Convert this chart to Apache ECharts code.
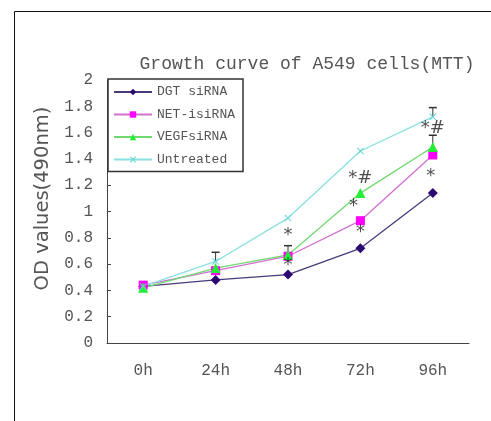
<!DOCTYPE html>
<html><head><meta charset="utf-8">
<script src="https://cdn.jsdelivr.net/npm/echarts@6/dist/echarts.min.js"></script>
<style>html,body{margin:0;padding:0;background:#fff}#c{width:491px;height:421px}</style>
</head><body><div id="c"></div>
<script>
const categories = ['0h', '24h', '48h', '72h', '96h'];
const dgt = [0.43, 0.48, 0.52, 0.72, 1.14];
const net = [0.44, 0.55, 0.66, 0.93, 1.43];
const vegf = [0.42, 0.57, 0.67, 1.14, 1.49];
const untreated = [0.43, 0.62, 0.95, 1.46, 1.72];
const untreatedErr = [0, 0.07, 0, 0, 0.07];
const vegfErr = [0, 0, 0.07, 0, 0.09];
const annoCat = ['48h', '48h', '72h', '72h', '72h', '96h', '96h'];
const annoY = [0.82, 0.59, 1.25, 1.04, 0.84, 1.63, 1.27];
const annoText = ['*', '*', '*#', '*', '*', '*#', '*'];
const yTicks = [0, 0.2, 0.4, 0.6, 0.8, 1, 1.2, 1.4, 1.6, 1.8, 2];

const mono = '"Liberation Mono", "DejaVu Sans Mono", monospace';
const chart = echarts.init(document.getElementById('c'));

function errSeries(vals, errs) {
  return {
    type: 'custom', silent: true, z: 3,
    data: vals.map((v, i) => [i, v, errs[i]]).filter(d => d[2] > 0),
    renderItem: function (params, api) {
      const base = api.coord([api.value(0), api.value(1)]);
      const top = api.coord([api.value(0), api.value(1) + api.value(2)]);
      return { type: 'group', children: [
        { type: 'line', shape: { x1: base[0], y1: base[1], x2: top[0], y2: top[1] }, style: { stroke: '#333', lineWidth: 1 } },
        { type: 'line', shape: { x1: top[0] - 4, y1: top[1], x2: top[0] + 4, y2: top[1] }, style: { stroke: '#333', lineWidth: 1.5 } }
      ]};
    }
  };
}

const annoOffsets = [[0,0],[0,0],[0,0],[-7,0],[0,0],[0,0],[-2,0]];

chart.setOption({
  animation: false,
  backgroundColor: '#fff',
  graphic: [{ type: 'rect', shape: { x: 14.5, y: 11.5, width: 700, height: 700 }, style: { fill: 'none', stroke: '#111', lineWidth: 1 }, z: 0 }],
  title: {
    text: 'Growth curve of A549 cells(MTT)', left: 302, top: 50, textAlign: 'center',
    textStyle: { fontFamily: mono, fontSize: 18, fontWeight: 'normal', color: '#555' }
  },
  grid: { left: 107, top: 80, right: 22, bottom: 78 },
  legend: {
    orient: 'vertical', left: 108, top: 79,
    backgroundColor: '#fff', borderColor: '#333', borderWidth: 1.5,
    padding: [6, 8, 5, 5], itemGap: 8.5, itemWidth: 38, itemHeight: 8,
    textStyle: { fontFamily: mono, fontSize: 13, color: '#555', lineHeight: 14 },
    data: ['DGT siRNA', 'NET-isiRNA', 'VEGFsiRNA', 'Untreated'], z: 10
  },
  xAxis: {
    type: 'category', data: categories, boundaryGap: true,
    axisLine: { lineStyle: { color: '#444', width: 1 } },
    axisTick: { inside: true, length: 4, lineStyle: { color: '#444' } },
    axisLabel: { margin: 20, fontFamily: mono, fontSize: 16, color: '#555' }
  },
  yAxis: {
    type: 'value', min: 0, max: 2, interval: 0.2,
    name: 'OD values(490nm)', nameLocation: 'middle', nameGap: 41, nameRotate: 90,
    nameTextStyle: { fontFamily: '"DejaVu Sans", sans-serif', fontSize: 19.5, color: '#555', padding: [0, 0, 0, 26] },
    splitLine: { show: false },
    axisLine: { show: true, lineStyle: { color: '#444', width: 1 } },
    axisTick: { show: true, inside: true, length: 4, lineStyle: { color: '#444' } },
    axisLabel: { margin: 14, fontFamily: mono, fontSize: 16, color: '#555',
      formatter: v => { const t = yTicks.find(x => Math.abs(x - v) < 1e-6); return t === undefined ? '' : String(t); } }
  },
  series: [
    { name: 'DGT siRNA', type: 'line', data: dgt, symbol: 'diamond', symbolSize: 10, z: 4,
      itemStyle: { color: '#2c0a73' }, lineStyle: { color: '#4a3a7a', width: 1.3 } },
    { name: 'NET-isiRNA', type: 'line', data: net, symbol: 'rect', symbolSize: 9, z: 4,
      itemStyle: { color: '#ff00ff' }, lineStyle: { color: '#d070d0', width: 1.3 } },
    { name: 'VEGFsiRNA', type: 'line', data: vegf, symbol: 'triangle', symbolSize: 10, z: 4,
      itemStyle: { color: '#22ee33' }, lineStyle: { color: '#70d870', width: 1.3 } },
    { name: 'Untreated', type: 'line', data: untreated, z: 4,
      symbol: 'path://M0,1L1,0L5,4L9,0L10,1L6,5L10,9L9,10L5,6L1,10L0,9L4,5Z', symbolSize: 7,
      itemStyle: { color: '#66d4d4' }, lineStyle: { color: '#88e0e0', width: 1.3 } },
    errSeries(untreated, untreatedErr),
    errSeries(vegf, vegfErr),
    { type: 'scatter', symbolSize: 0, silent: true, z: 6,
      data: annoCat.map((c, i) => ({ value: [c, annoY[i]], name: annoText[i],
        label: { offset: annoOffsets[i] } })),
      label: { show: true, position: 'inside', formatter: p => p.name,
        fontFamily: '"DejaVu Sans", sans-serif', fontSize: 18, color: '#222' } }
  ]
});
</script></body></html>
